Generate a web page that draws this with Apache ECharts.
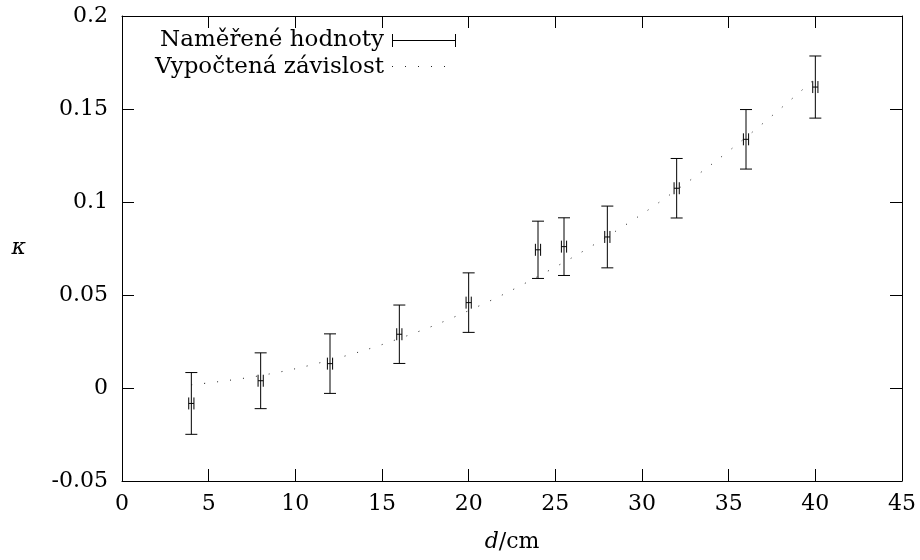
<!DOCTYPE html>
<html>
<head>
<meta charset="utf-8">
<script src="https://cdn.jsdelivr.net/npm/echarts@6/dist/echarts.min.js"></script>
<style>
  html, body { margin: 0; padding: 0; background: #fff; }
  #chart { width: 920px; height: 560px; }
</style>
</head>
<body>
<div id="chart"></div>
<script>
// Measured values (d in cm, kappa dimensionless)
const dValues = [4, 8, 12, 16, 20, 24, 25.5, 28, 32, 36, 40];
const kappaValues = [-0.0083, 0.0039, 0.0131, 0.0289, 0.0459, 0.0743, 0.0760, 0.0812, 0.1074, 0.1337, 0.1618];
const kappaErrors = [0.0166, 0.0150, 0.0160, 0.0157, 0.0160, 0.0154, 0.0155, 0.0166, 0.0160, 0.0160, 0.0167];
const dErrors = [0.15, 0.15, 0.15, 0.15, 0.15, 0.15, 0.15, 0.15, 0.15, 0.15, 0.15];
// Computed dependence (dotted curve)
const curveD = [4, 8, 12, 16, 20, 24, 28, 32, 36, 40];
const curveKappa = [0.0017, 0.0067, 0.0150, 0.0266, 0.0416, 0.0600, 0.0815, 0.1065, 0.1348, 0.1664];
// Axis ranges / ticks
const xRange = { min: 0, max: 45, interval: 5 };
const yRange = { min: -0.05, max: 0.2, interval: 0.05 };
const legendLabels = ['Naměřené hodnoty', 'Vypočtená závislost'];

const FONT = "DejaVu Serif";
const chart = echarts.init(document.getElementById('chart'), null, { renderer: 'canvas' });

const errData = dValues.map((d, i) => [d, kappaValues[i], kappaErrors[i], dErrors[i]]);
const curveData = curveD.map((d, i) => [d, curveKappa[i]]);

const CAP = 6;
function renderErr(params, api) {
  const x = api.value(0), y = api.value(1), ey = api.value(2), ex = api.value(3);
  const c = api.coord([x, y]);
  const t = api.coord([x, y + ey]);
  const b = api.coord([x, y - ey]);
  const l = api.coord([x - ex, y]);
  const r = api.coord([x + ex, y]);
  const style = { stroke: '#000', lineWidth: 1, fill: null };
  const ln = (x1, y1, x2, y2) => ({ type: 'line', shape: { x1, y1, x2, y2 }, style });
  return {
    type: 'group',
    children: [
      ln(c[0], t[1], c[0], b[1]),
      ln(c[0] - CAP, t[1], c[0] + CAP, t[1]),
      ln(c[0] - CAP, b[1], c[0] + CAP, b[1]),
      ln(l[0], c[1], r[0], c[1]),
      ln(l[0], c[1] - CAP, l[0], c[1] + CAP),
      ln(r[0], c[1] - CAP, r[0], c[1] + CAP)
    ]
  };
}

const axisCommon = {
  axisLine: { show: true, onZero: false, lineStyle: { color: '#000', width: 1 } },
  axisTick: { show: true, inside: true, length: 12, lineStyle: { color: '#000', width: 1 } },
  splitLine: { show: false },
  minorTick: { show: false }
};

const yFmt = v => {
  const r = Math.round(v * 100) / 100;
  return String(r);
};

const option = {
  animation: false,
  backgroundColor: '#fff',
  textStyle: { fontFamily: FONT },
  grid: { left: 122, right: 18, top: 16, bottom: 79, containLabel: false, show: false },
  xAxis: [
    Object.assign({}, axisCommon, {
      type: 'value', position: 'bottom', min: xRange.min, max: xRange.max, interval: xRange.interval,
      axisLabel: { show: true, margin: 12, color: '#000', fontFamily: FONT, fontSize: 22 },
      name: '{i|d}/cm', nameLocation: 'middle', nameGap: 50,
      nameTextStyle: {
        color: '#000', fontFamily: FONT, fontSize: 22,
        rich: { i: { fontStyle: 'italic', fontFamily: FONT, fontSize: 22, color: '#000' } }
      }
    }),
    Object.assign({}, axisCommon, {
      type: 'value', position: 'top', min: xRange.min, max: xRange.max, interval: xRange.interval,
      axisLabel: { show: false }
    })
  ],
  yAxis: [
    Object.assign({}, axisCommon, {
      type: 'value', position: 'left', min: yRange.min, max: yRange.max, interval: yRange.interval,
      axisLabel: { show: true, margin: 14, color: '#000', fontFamily: FONT, fontSize: 22, formatter: yFmt },
      name: 'κ', nameLocation: 'middle', nameGap: 96, nameRotate: 0,
      nameTextStyle: { color: '#000', fontFamily: FONT, fontSize: 22, fontStyle: 'italic' }
    }),
    Object.assign({}, axisCommon, {
      type: 'value', position: 'right', min: yRange.min, max: yRange.max, interval: yRange.interval,
      axisLabel: { show: false }
    })
  ],
  series: [
    {
      name: legendLabels[1],
      type: 'line',
      xAxisIndex: 0, yAxisIndex: 0,
      data: curveData,
      smooth: 0.4,
      showSymbol: false,
      symbol: 'none',
      lineStyle: { color: '#222', width: 1, type: [1, 12] },
      z: 2
    },
    {
      name: legendLabels[0],
      type: 'custom',
      xAxisIndex: 0, yAxisIndex: 0,
      data: errData,
      renderItem: renderErr,
      encode: { x: 0, y: 1 },
      z: 3
    }
  ],
  graphic: [
    { type: 'text', x: 384, y: 40, style: { text: legendLabels[0], fontFamily: FONT, fontSize: 23, fill: '#000', align: 'right', verticalAlign: 'middle' } },
    { type: 'line', shape: { x1: 392, y1: 40.5, x2: 456, y2: 40.5 }, style: { stroke: '#000', lineWidth: 1 } },
    { type: 'line', shape: { x1: 392.5, y1: 34, x2: 392.5, y2: 47 }, style: { stroke: '#000', lineWidth: 1 } },
    { type: 'line', shape: { x1: 455.5, y1: 34, x2: 455.5, y2: 47 }, style: { stroke: '#000', lineWidth: 1 } },
    { type: 'text', x: 384, y: 67, style: { text: legendLabels[1], fontFamily: FONT, fontSize: 23, fill: '#000', align: 'right', verticalAlign: 'middle' } },
    { type: 'line', shape: { x1: 392, y1: 66.5, x2: 457, y2: 66.5 }, style: { stroke: '#222', lineWidth: 1, lineDash: [1, 12] } }
  ]
};
chart.setOption(option);
</script>
</body>
</html>
